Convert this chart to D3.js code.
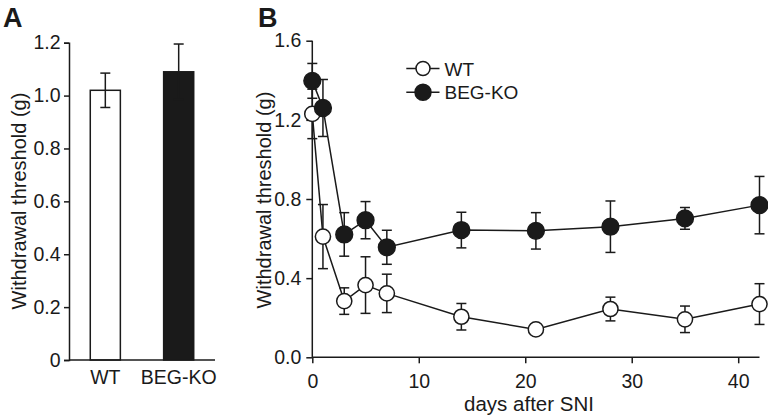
<!DOCTYPE html>
<html><head><meta charset="utf-8">
<script src="https://cdn.jsdelivr.net/npm/d3@7"></script>
<style>
html,body{margin:0;padding:0;background:#fff;}
svg{display:block;font-family:"Liberation Sans",Arial,Helvetica,sans-serif;}
</style></head>
<body>
<svg id="chart" width="768" height="418"></svg>
<script>
// ---- Panel A data ----
const groupsA = ["WT", "BEG-KO"];
const meansA = [1.02, 1.09];
const errsA = [0.065, 0.105];
const ticksA = [0, 0.2, 0.4, 0.6, 0.8, 1.0, 1.2];

// ---- Panel B data ----
const days = [0, 1, 3, 5, 7, 14, 21, 28, 35, 42];
const wtMean = [1.23, 0.61, 0.284, 0.365, 0.323, 0.205, 0.141, 0.244, 0.192, 0.269];
const wtErr  = [0.125, 0.162, 0.067, 0.143, 0.097, 0.067, 0.01, 0.06, 0.067, 0.103];
const koMean = [1.397, 1.26, 0.621, 0.693, 0.556, 0.643, 0.639, 0.66, 0.702, 0.769];
const koErr  = [0.088, 0.144, 0.11, 0.094, 0.086, 0.09, 0.092, 0.13, 0.055, 0.145];
const ticksBy = [0, 0.4, 0.8, 1.2, 1.6];
const ticksBx = [0, 10, 20, 30, 40];
const seriesNames = ["WT", "BEG-KO"];

const ink = "#1a1a1a";
const svg = d3.select("#chart");

// ================= Panel A =================
const yA = d3.scaleLinear().domain([0, 1.2]).range([360, 42.7]);
const xA = d3.scaleBand().domain(groupsA).range([69, 215]).paddingInner(0.59).paddingOuter(0.29);
const gA = svg.append("g");

// bars
gA.selectAll("rect.bar").data(groupsA).enter().append("rect")
  .attr("x", d => xA(d)).attr("width", xA.bandwidth())
  .attr("y", (d, i) => yA(meansA[i])).attr("height", (d, i) => yA(0) - yA(meansA[i]))
  .attr("fill", (d, i) => i === 0 ? "#fff" : ink)
  .attr("stroke", ink).attr("stroke-width", 1.5);

// error bars
groupsA.forEach((g, i) => {
  const cx = xA(g) + xA.bandwidth() / 2;
  const top = yA(meansA[i] + errsA[i]), bot = yA(meansA[i] - errsA[i]);
  gA.append("line").attr("x1", cx).attr("x2", cx).attr("y1", top).attr("y2", bot)
    .attr("stroke", ink).attr("stroke-width", 1.5);
  [top, bot].forEach(y => gA.append("line").attr("x1", cx - 5).attr("x2", cx + 5)
    .attr("y1", y).attr("y2", y).attr("stroke", ink).attr("stroke-width", 1.5));
});

// axes A
const axYA = gA.append("g").attr("transform", "translate(69,0)")
  .call(d3.axisLeft(yA).tickValues(ticksA).tickSize(5).tickPadding(3.5)
    .tickFormat(d => d === 0 ? "0" : d.toFixed(1)));
const axXA = gA.append("g").attr("transform", "translate(0,360)")
  .call(d3.axisBottom(xA).tickSize(0).tickPadding(10));
axXA.select(".domain").attr("d", "M69,0H215");
[axYA, axXA].forEach(a => {
  a.select(".domain").attr("stroke", ink).attr("stroke-width", 1.5);
  a.selectAll(".tick line").attr("stroke", ink).attr("stroke-width", 1.5);
  a.selectAll("text").attr("font-size", 19.5).attr("fill", ink).attr("font-family", "Liberation Sans, Arial, sans-serif");
});

gA.append("text").attr("transform", "translate(26,201) rotate(-90)")
  .attr("text-anchor", "middle").attr("font-size", 20).attr("fill", ink)
  .text("Withdrawal threshold (g)");
svg.append("text").attr("x", 3).attr("y", 27).attr("font-size", 27).attr("font-weight", "bold")
  .attr("fill", ink).text("A");

// ================= Panel B =================
const xB = d3.scaleLinear().domain([0, 42]).range([312.3, 759.5]);
const yB = d3.scaleLinear().domain([0, 1.6]).range([357.3, 40.7]);
const gB = svg.append("g");

const axYB = gB.append("g").attr("transform", "translate(312.3,0)")
  .call(d3.axisLeft(yB).tickValues(ticksBy).tickSize(6).tickPadding(5).tickFormat(d => d.toFixed(1)));
const axXB = gB.append("g").attr("transform", "translate(0,357.3)")
  .call(d3.axisBottom(xB).tickValues(ticksBx).tickSize(6).tickPadding(11).tickFormat(d3.format("d")));
axYB.select(".domain").attr("d", "M0," + yB(1.6) + "V" + yB(0));
axXB.select(".domain").attr("d", "M" + xB(0) + ",0H" + xB(42));
[axYB, axXB].forEach(a => {
  a.select(".domain").attr("stroke", ink).attr("stroke-width", 1.5);
  a.selectAll(".tick line").attr("stroke", ink).attr("stroke-width", 1.5);
  a.selectAll("text").attr("font-size", 19.5).attr("fill", ink).attr("font-family", "Liberation Sans, Arial, sans-serif");
});

gB.append("text").attr("transform", "translate(271,200) rotate(-90)")
  .attr("text-anchor", "middle").attr("font-size", 20).attr("fill", ink)
  .text("Withdrawal threshold (g)");
gB.append("text").attr("x", 529).attr("y", 411).attr("text-anchor", "middle")
  .attr("font-size", 20.5).attr("fill", ink).text("days after SNI");
svg.append("text").attr("x", 258).attr("y", 27).attr("font-size", 27).attr("font-weight", "bold")
  .attr("fill", ink).text("B");

const series = [
  {name: seriesNames[0], mean: wtMean, err: wtErr, fill: "#fff"},
  {name: seriesNames[1], mean: koMean, err: koErr, fill: ink}
];
const line = d3.line().x(d => xB(d[0])).y(d => yB(d[1]));

series.forEach(s => {
  const pts = days.map((d, i) => [d, s.mean[i], s.err[i]]);
  const g = gB.append("g");
  g.append("path").datum(pts).attr("d", line).attr("fill", "none")
    .attr("stroke", ink).attr("stroke-width", 1.5);
  pts.forEach(p => {
    const cx = xB(p[0]), t = yB(p[1] + p[2]), b = yB(p[1] - p[2]);
    g.append("line").attr("x1", cx).attr("x2", cx).attr("y1", t).attr("y2", b)
      .attr("stroke", ink).attr("stroke-width", 1.5);
    [t, b].forEach(y => g.append("line").attr("x1", cx - 5).attr("x2", cx + 5)
      .attr("y1", y).attr("y2", y).attr("stroke", ink).attr("stroke-width", 1.5));
  });
  g.selectAll("circle").data(pts).enter().append("circle")
    .attr("cx", d => xB(d[0])).attr("cy", d => yB(d[1]))
    .attr("r", s.fill === "#fff" ? 7.6 : 8.4)
    .attr("fill", s.fill).attr("stroke", ink).attr("stroke-width", 1.5);
});

// legend
const leg = gB.append("g");
series.forEach((s, i) => {
  const y = 68.5 + i * 23.8;
  leg.append("line").attr("x1", 406.3).attr("x2", 439.5).attr("y1", y).attr("y2", y)
    .attr("stroke", ink).attr("stroke-width", 1.5);
  leg.append("circle").attr("cx", 423).attr("cy", y).attr("r", s.fill === "#fff" ? 7 : 8)
    .attr("fill", s.fill).attr("stroke", ink).attr("stroke-width", 1.5);
  leg.append("text").attr("x", 444.5).attr("y", y + 7).attr("font-size", 19).attr("fill", ink).text(s.name);
});
</script>
</body></html>
